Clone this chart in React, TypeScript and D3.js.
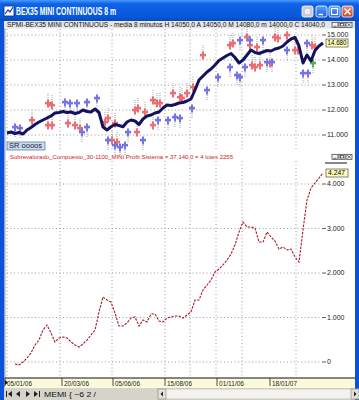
import React from 'react';
import * as d3 from 'd3';

// ---- data ----
const priceValues = [
  11080, 11120, 11060, 11100, 11040, 11200, 11300, 11420, 11520, 11600,
  11680, 11760, 11880, 11900, 11940, 11900, 11920, 11860, 11900, 12000,
  11940, 11920, 12040, 11900, 11320, 11200, 11330, 11420, 11380, 11330,
  11520, 11600, 11560, 11420, 11640, 11760, 11800, 11880, 11920, 12080,
  12200, 12180, 12220, 12280, 12300, 12360, 12440, 12800, 13200, 13360,
  13520, 13640, 13800, 13980, 14080, 14180, 14260, 14100, 13880, 14000,
  14200, 14400, 14300, 14260, 14320, 14380, 14360, 14440, 14480, 14560,
  14720, 14840, 14900, 14560, 13880, 14200, 13960, 14380, 14560, 14680,
];
const equityStart = 2;
const equityValues = [
  -45, -67, 0, 90, 202, 382, 494, 719, 831, 652,
  449, 539, 562, 539, 449, 382, 337, 404, 494, 607,
  719, 1124, 1461, 1393, 1348, 1101, 809, 809, 876, 989,
  1011, 809, 944, 899, 1079, 1079, 921, 899, 989, 1011,
  1034, 1034, 989, 1056, 1124, 1393, 1393, 1618, 1730, 1843,
  2022, 2090, 2180, 2292, 2427, 2629, 2921, 3146, 3034, 3034,
  3011, 2696, 2696, 2921, 2809, 2719, 2539, 2584, 2517, 2539,
  2359, 2247, 2966, 3640, 3910, 4022, 4135, 4247,
];
const priceTicks = [11000, 12000, 13000, 14000, 15000];
const equityTicks = [0, 1000, 2000, 3000, 4000];
const dateLabels = ['05/01/06', '20/03/06', '05/06/06', '15/08/06', '01/11/06', '18/01/07'];
const dateLabelIdx = [-0.5, 13.75, 26.5, 39.5, 52.5, 65.75];
const gridIdx = [0, 13.25, 26.25, 39.5, 45.75, 52.25, 58.75, 72.25];

const sellMarkers: [number, number][] = [
  [6.25, 11600], [10.25, 12280], [11.25, 12200], [10.25, 11400], [11.25, 11400],
  [15.25, 11480], [17, 11400], [18.25, 11280], [24.5, 11520], [25.25, 11680],
  [27, 11480], [26.25, 10800], [27.5, 10720], [32, 12000], [32.75, 12080],
  [34.5, 11920], [36.5, 12400], [37.5, 12280], [38.25, 12280], [32.5, 11120],
  [36.5, 11400], [41.5, 12680], [43.25, 12520], [45, 12680], [46.5, 12920],
  [43.75, 12480], [49, 14200], [55.75, 14600], [56.5, 14680], [60.75, 14600],
  [62.5, 14520], [67, 14920], [67.75, 14880], [70, 15000], [72, 14400],
  [72.75, 14400], [76.25, 14600], [77, 14520], [61.25, 13800], [62, 13720],
  [63.25, 13800], [65.75, 13880], [60, 14920],
];
const buyMarkers: [number, number][] = [
  [2, 11320], [3.25, 11280], [14.5, 12320], [15.75, 12280], [17.5, 12280],
  [20, 12320], [22.5, 12480], [20, 11320], [18.75, 11120], [25.25, 10800],
  [27, 10600], [28.25, 10520], [29.5, 10600], [34, 10800], [30.25, 11120],
  [37.75, 11600], [40.25, 11600], [42, 11720], [43.25, 11680], [46.25, 12080],
  [50, 12800], [52.75, 13320], [55.75, 13720], [57.5, 13400], [58.25, 13320],
  [59.5, 13720], [65, 13920], [66.25, 13920], [70, 14400], [74, 13480],
  [75.25, 13480], [58.25, 14800], [60.75, 14800], [64, 14800], [75, 14680],
];
const exitMarkers: [number, number][] = [[76.5, 13880]];

const FONT = "'Liberation Sans', Arial, sans-serif";

function Marker({ cx, cy, color, down }: { cx: number; cy: number; color: string; down: boolean }) {
  return (
    <g>
      <line x1={cx} x2={cx} y1={down ? cy - 10 : cy + 3} y2={down ? cy - 3 : cy + 10}
        stroke="#8a8a8a" strokeWidth={0.8} strokeDasharray="1,1" />
      <rect x={cx - 3} y={cy - 1.2} width={6} height={2.6} fill={color} />
      <rect x={cx - 1} y={cy - 3.5} width={2} height={8} fill={color} />
    </g>
  );
}

function WinBtn({ x, y, fill, children }: { x: number; y: number; fill: string; children?: React.ReactNode }) {
  return (
    <g>
      <rect x={x} y={y} width={11} height={11} rx={2} fill={fill} stroke="#ffffff" strokeWidth={0.8} />
      {children}
    </g>
  );
}

function MiniIcons({ x, y }: { x: number; y: number }) {
  return (
    <g stroke="#333" strokeWidth={0.7} fill="#f4f4f4">
      <rect x={x} y={y} width={6} height={5} />
      <line x1={x + 1.5} x2={x + 4.5} y1={y + 4} y2={y + 4} />
      <rect x={x + 7} y={y} width={6} height={5} />
      <rect x={x + 8.5} y={y + 1.2} width={3} height={2.5} fill="none" />
      <rect x={x + 14} y={y} width={6} height={5} />
      <line x1={x + 15.3} x2={x + 18.7} y1={y + 1} y2={y + 4} />
      <line x1={x + 18.7} x2={x + 15.3} y1={y + 1} y2={y + 4} />
    </g>
  );
}

export default function App() {
  const W = 359;
  const H = 400;
  const x = d3.scaleLinear().domain([0, 79]).range([7, 323]);
  const yP = d3.scaleLinear().domain([11000, 15000]).range([135, 35]);
  const yE = d3.scaleLinear().domain([0, 4000]).range([362, 184]);
  const fmt = d3.formatLocale({ decimal: ',', thousands: '.', grouping: [3], currency: ['', ''] }).format(',.0f');

  const priceLine = d3.line<number>().x((_, i) => x(i)).y((d) => yP(d))(priceValues) || '';
  const eqLine = d3.line<number>().x((_, i) => x(i + equityStart)).y((d) => yE(d))(equityValues) || '';

  const lastP = priceValues[priceValues.length - 1];
  const lastE = equityValues[equityValues.length - 1];

  const gridStroke = '#9c9c9c';
  const navText = 'MEMI { ~6 2 /';

  return (
    <svg width={W} height={H} style={{ position: 'absolute', left: 0, top: 0, display: 'block' }}
      fontFamily={FONT}>
      <defs>
        <linearGradient id="tb" x1="0" x2="0" y1="0" y2="1">
          <stop offset="0" stopColor="#4a9aff" />
          <stop offset="0.18" stopColor="#0e63e6" />
          <stop offset="0.8" stopColor="#0757d8" />
          <stop offset="1" stopColor="#0a48c0" />
        </linearGradient>
        <linearGradient id="closeg" x1="0" x2="0" y1="0" y2="1">
          <stop offset="0" stopColor="#f08a6a" />
          <stop offset="1" stopColor="#d0401c" />
        </linearGradient>
        <linearGradient id="blueg" x1="0" x2="0" y1="0" y2="1">
          <stop offset="0" stopColor="#5aa0ff" />
          <stop offset="1" stopColor="#1a5ee8" />
        </linearGradient>
      </defs>

      {/* window background */}
      <rect x={0} y={0} width={W} height={H} fill="#ffffff" />
      {/* frame */}
      <rect x={0} y={0} width={4} height={H} fill="#0a52d6" />
      <rect x={355} y={0} width={4} height={H} fill="#0a52d6" />
      <rect x={4} y={21} width={1.5} height={367} fill="#9aa6c8" />

      {/* title bar */}
      <rect x={0} y={0} width={W} height={21} fill="url(#tb)" />
      <rect x={4} y={6} width={10} height={10} fill="#ffffff" stroke="#0b2d7a" strokeWidth={0.8} />
      <polyline points="5,14 8,10 10,12 13,7" fill="none" stroke="#1040b0" strokeWidth={1.2} />
      <text x={16} y={15} fill="#ffffff" fontSize={10} fontWeight="bold" textLength={100}
        lengthAdjust="spacingAndGlyphs">BEX35 MINI CONTINUOUS 8 m</text>
      <WinBtn x={302} y={6} fill="#c8c8d8">
        <rect x={305} y={9} width={5} height={5} fill="#ffffff" opacity={0.7} />
      </WinBtn>
      <WinBtn x={316} y={6} fill="url(#blueg)">
        <line x1={318.5} x2={323} y1={14.5} y2={14.5} stroke="#fff" strokeWidth={1.5} />
      </WinBtn>
      <WinBtn x={329} y={6} fill="url(#blueg)">
        <rect x={331.5} y={8.5} width={6} height={6} fill="none" stroke="#fff" strokeWidth={1.2} />
      </WinBtn>
      <WinBtn x={342} y={6} fill="url(#closeg)">
        <line x1={344.5} x2={350.5} y1={8.5} y2={14.5} stroke="#fff" strokeWidth={1.4} />
        <line x1={350.5} x2={344.5} y1={8.5} y2={14.5} stroke="#fff" strokeWidth={1.4} />
      </WinBtn>

      {/* header row */}
      <rect x={4} y={21} width={351} height={7.5} fill="#e6e6e6" />
      <text x={7} y={27.3} fontSize={6.5} fill="#111" textLength={318} lengthAdjust="spacingAndGlyphs">
        SPMI-BEX35 MINI CONTINUOUS - media 8 minutos  H 14050,0  A 14050,0  M 14080,0  m 14000,0  C 14040,0
      </text>
      <MiniIcons x={332} y={22.3} />

      {/* vertical grid */}
      {gridIdx.map((g, k) => (
        <g key={'vg' + k}>
          <line x1={x(g)} x2={x(g)} y1={29} y2={151} stroke={gridStroke} strokeDasharray="1,2.5" />
          <line x1={x(g)} x2={x(g)} y1={161} y2={377} stroke={gridStroke} strokeDasharray="1,2.5" />
        </g>
      ))}

      {/* price panel horizontal grid + axis */}
      {priceTicks.map((t) => (
        <g key={'pt' + t}>
          <line x1={7} x2={321} y1={yP(t)} y2={yP(t)} stroke={gridStroke} strokeDasharray="1,2.5" />
          <line x1={322} x2={326} y1={yP(t)} y2={yP(t)} stroke="#333" strokeWidth={0.8} />
          <text x={327} y={yP(t) + 2.4} fontSize={7} fill="#222">{fmt(t)}</text>
        </g>
      ))}

      {/* signal markers */}
      {sellMarkers.map((m, k) => (
        <Marker key={'s' + k} cx={x(m[0])} cy={yP(m[1])} color="#ee6c72" down={true} />
      ))}
      {buyMarkers.map((m, k) => (
        <Marker key={'b' + k} cx={x(m[0])} cy={yP(m[1])} color="#7474e4" down={false} />
      ))}
      {exitMarkers.map((m, k) => (
        <Marker key={'e' + k} cx={x(m[0])} cy={yP(m[1])} color="#5cae5c" down={false} />
      ))}

      {/* price line */}
      <path d={priceLine} fill="none" stroke="#12125e" strokeWidth={3} strokeLinejoin="round" />

      {/* last price box */}
      <rect x={326} y={yP(lastP) - 4} width={22} height={8} fill="#ffffb8" stroke="#333" strokeWidth={0.6} />
      <text x={327.5} y={yP(lastP) + 2.3} fontSize={6.5} fill="#000" textLength={19}
        lengthAdjust="spacingAndGlyphs">{fmt(lastP)}</text>

      {/* symbol box */}
      <rect x={7} y={142} width={38} height={8} fill="#c9dbef" stroke="#50709c" strokeWidth={0.7} />
      <text x={9} y={148.3} fontSize={6.5} fill="#223" textLength={33} lengthAdjust="spacingAndGlyphs">SR oooos</text>

      {/* equity title */}
      <text x={10} y={159} fontSize={6.2} fill="#cc2222" textLength={223} lengthAdjust="spacingAndGlyphs">
        Sobrevalorado_Compuesto_30-1100_MINI Profit Sistema = 37.140,0 = 4 lotes 2255
      </text>
      <MiniIcons x={332} y={154.3} />
      <line x1={325} x2={347} y1={163} y2={163} stroke="#111" strokeWidth={1} />

      {/* equity panel grid + axis */}
      {equityTicks.map((t) => (
        <g key={'et' + t}>
          <line x1={7} x2={321} y1={yE(t)} y2={yE(t)} stroke={gridStroke} strokeDasharray="1,2.5" />
          <line x1={322} x2={326} y1={yE(t)} y2={yE(t)} stroke="#333" strokeWidth={0.8} />
          <text x={327} y={yE(t) + 2.4} fontSize={7} fill="#222">{fmt(t)}</text>
        </g>
      ))}

      {/* equity line */}
      <path d={eqLine} fill="none" stroke="#a81a2c" strokeWidth={1.1} strokeDasharray="2.5,1.2" />
      <rect x={326} y={yE(lastE) - 4} width={22} height={8} fill="#ffffb8" stroke="#333" strokeWidth={0.6} />
      <text x={328} y={yE(lastE) + 2.3} fontSize={6.5} fill="#000" textLength={17}
        lengthAdjust="spacingAndGlyphs">{fmt(lastE)}</text>

      {/* x axis */}
      <rect x={5} y={378} width={350} height={10} fill="#fbfbdc" />
      <line x1={5} x2={355} y1={378} y2={378} stroke="#111" strokeWidth={1.2} />
      {dateLabels.map((d, k) => (
        <g key={'dl' + k}>
          <line x1={x(dateLabelIdx[k])} x2={x(dateLabelIdx[k])} y1={378} y2={386} stroke="#222" strokeWidth={0.8} />
          <text x={x(dateLabelIdx[k]) + 2} y={385.5} fontSize={6.5} fill="#222" textLength={25}
            lengthAdjust="spacingAndGlyphs">{d}</text>
        </g>
      ))}
      <polygon points="5,380 8,382.5 5,385" fill="#111" />

      {/* navigation bar */}
      <rect x={4} y={388} width={351} height={12} fill="#d6d3ca" />
      <g fill="#222">
        <rect x={6} y={391} width={1} height={6} />
        <polygon points="12,391 8,394 12,397" />
        <polygon points="20,391 16,394 20,397" />
        <polygon points="26,391 30,394 26,397" />
        <polygon points="34,391 38,394 34,397" />
        <rect x={39} y={391} width={1} height={6} />
      </g>
      <text x={44} y={396.5} fontSize={6.8} fill="#111" textLength={52} lengthAdjust="spacingAndGlyphs">{navText}</text>
      <rect x={158} y={389} width={201} height={10} fill="#f2f2ee" stroke="#b8b6ae" strokeWidth={0.6} />
      <rect x={158} y={389} width={8} height={10} fill="#e2e0d8" stroke="#888" strokeWidth={0.6} />
      <polygon points="163,391.5 160.5,394 163,396.5" fill="#222" />
      <rect x={351} y={389} width={8} height={10} fill="#e2e0d8" stroke="#888" strokeWidth={0.6} />
      <polygon points="354,391.5 356.5,394 354,396.5" fill="#222" />
    </svg>
  );
}
